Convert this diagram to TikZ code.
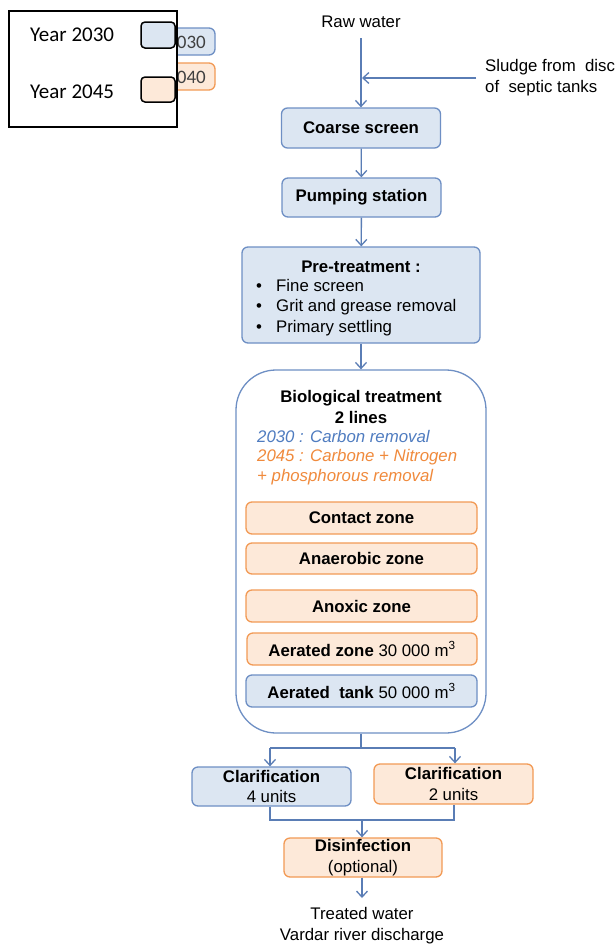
\documentclass[tikz,border=0pt]{standalone}
\usepackage{fontspec}
\setmainfont{Liberation Sans}
\newfontfamily\calib{Carlito}
\usetikzlibrary{arrows.meta}
\definecolor{bfill}{HTML}{DCE6F2}
\definecolor{bdraw}{HTML}{6E8FC4}
\definecolor{ofill}{HTML}{FDE9D9}
\definecolor{odraw}{HTML}{F29A55}
\definecolor{btext}{HTML}{4F7CC0}
\definecolor{otext}{HTML}{F08A3C}
\definecolor{lineblue}{HTML}{5A7DB5}
\begin{document}
\begin{tikzpicture}[x=1pt,y=-1pt,
  font=\fontsize{16.8}{20.5}\selectfont,
  bbox/.style={draw=bdraw, fill=bfill, rounded corners=6pt, line width=1.3pt, inner sep=0pt, align=center},
  obox/.style={draw=odraw, fill=ofill, rounded corners=6pt, line width=1.3pt, inner sep=0pt, align=center},
  conn/.style={draw=lineblue, line width=1.3pt},
  arr/.style={conn, -{Straight Barb[length=6pt,width=11pt]}},
  txt/.style={inner sep=0pt, align=center},
  legsw/.style={draw=black, line width=1.5pt, rounded corners=4pt, minimum width=34pt, inner sep=0pt}]
\useasboundingbox (0,0) rectangle (615,945);
\fill[white] (0,0) rectangle (615,945);

% boxes hidden behind the legend
\node[bbox, minimum width=65pt, minimum height=27pt] (hb) at (182.5,41.5) {};
\node[txt, anchor=east, font=\calib\fontsize{19}{20}\selectfont, text=black!75] (hbt) at (206,42) {2030};
\node[obox, minimum width=65pt, minimum height=27pt] (ho) at (182.5,76.5) {};
\node[txt, anchor=east, font=\calib\fontsize{19}{20}\selectfont, text=black!75] (hot) at (206,77) {2040};

% legend
\node[draw=black, line width=2pt, fill=white, minimum width=168pt, minimum height=116pt, inner sep=0pt] (leg) at (93,69) {};
\node[txt, anchor=west, font=\calib\fontsize{21}{22}\selectfont] (l1) at (30,35) {Year 2030};
\node[txt, anchor=west, font=\calib\fontsize{21}{22}\selectfont] (l2) at (30,92) {Year 2045};
\node[legsw, fill=bfill, minimum height=26pt] (s1) at (158,35) {};
\node[legsw, fill=ofill, minimum height=25pt] (s2) at (158,89.5) {};

% inflows
\node[txt] (raw) at (361,22) {Raw water};
\coordinate (rawend) at (361,38);
\coordinate (sl) at (476,78);
\coordinate (jn) at (362,78);
\node[txt, anchor=west, align=left] (sludge) at (485,77.5) {Sludge from\ \ disc\\of\ \ septic tanks};

% main chain
\node[bbox, minimum width=159pt, minimum height=40pt] (coarse) at (361,128) {\textbf{Coarse screen}};
\node[bbox, minimum width=159pt, minimum height=39pt] (pump) at (361.5,197.5) {\textbf{Pumping station}};
\node[bbox, minimum width=238pt, minimum height=96pt] (pre) at (361,295) {};
\node[txt, anchor=base] (pret) at (361,272) {\textbf{Pre-treatment :}};
\node[txt, anchor=base west] (p1) at (256,291) {\makebox[20pt][l]{•}Fine screen};
\node[txt, anchor=base west] (p2) at (256,311.5) {\makebox[20pt][l]{•}Grit and grease removal};
\node[txt, anchor=base west] (p3) at (256,332) {\makebox[20pt][l]{•}Primary settling};

% biological treatment
\node[draw=bdraw, fill=white, line width=1.3pt, rounded corners=40pt, minimum width=250pt, minimum height=363pt, inner sep=0pt] (bio) at (361,551.5) {};
\node[txt] (biot) at (361,407) {\textbf{Biological treatment}\\\textbf{2 lines}};
\node[txt, anchor=west, align=left, font=\itshape\fontsize{16.8}{19.5}\selectfont] (biol) at (257,457.5)
  {{\color{btext}2030 : Carbon removal}\\{\color{otext}2045 : Carbone + Nitrogen}\\{\color{otext}+ phosphorous removal}};
\node[obox, minimum width=231pt, minimum height=32pt] (contact) at (361.5,518) {\textbf{Contact zone}};
\node[obox, minimum width=231pt, minimum height=31pt] (anaer) at (361.5,558.5) {\textbf{Anaerobic zone}};
\node[obox, minimum width=231pt, minimum height=32pt] (anox) at (361.5,606) {\textbf{Anoxic zone}};
\node[obox, minimum width=230pt, minimum height=32pt] (aerz) at (362,649) {\textbf{Aerated zone} 30 000 m\textsuperscript{3}};
\node[bbox, minimum width=231pt, minimum height=32pt] (aert) at (361.5,691) {\textbf{Aerated\ \ tank} 50 000 m\textsuperscript{3}};

% clarification and disinfection
\node[bbox, minimum width=159pt, minimum height=39pt] (clarL) at (271.5,786.5) {\textbf{Clarification}\\4 units};
\node[obox, minimum width=159pt, minimum height=40pt] (clarR) at (453.5,784) {\textbf{Clarification}\\2 units};
\node[obox, minimum width=158pt, minimum height=39pt, font=\fontsize{16.8}{21}\selectfont] (dis) at (363,857.5) {\textbf{Disinfection}\\(optional)};
\node[txt] (treated) at (362,925.5) {Treated water\\Vardar river discharge};

% junction coordinates
\coordinate (bj) at (361,748);
\coordinate (bjL) at (270,748);
\coordinate (bjR) at (455,748);
\coordinate (cjL) at (270,820);
\coordinate (cjR) at (454,820);
\coordinate (cj) at (362,820);

% connectors
\draw[arr] (rawend) -- (coarse.north);
\draw[arr] (sl) -- (jn);
\draw[arr] (coarse) -- (pump);
\draw[arr] (pump) -- (pre);
\draw[arr] (pre) -- (bio);
\draw[conn] (bio.south) -- (bj);
\draw[conn] (bjL) -- (bjR);
\draw[arr] (bjL) -- (bjL |- clarL.north);
\draw[arr] (bjR) -- (bjR |- clarR.north);
\draw[conn] (cjL |- clarL.south) -- (cjL) -- (cjR) -- (cjR |- clarR.south);
\draw[arr] (cj) -- (cj |- dis.north);
\draw[arr] (cj |- dis.south) -- (cj |- 0,898);
\end{tikzpicture}
\end{document}
